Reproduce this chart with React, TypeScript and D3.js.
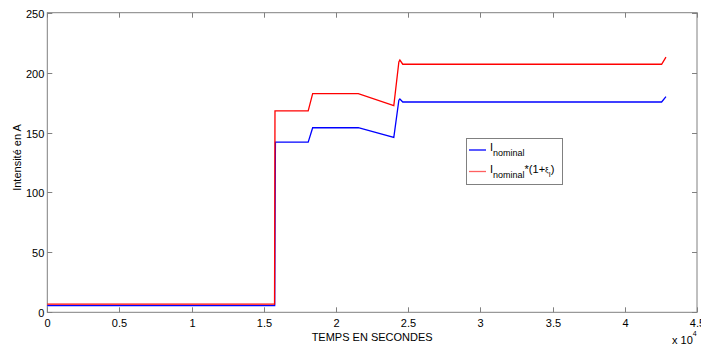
import { useEffect, useRef } from "react";
import * as d3 from "d3";

// time in seconds, current in A
const timeNominal = [0, 15750, 15800, 18070, 18380, 21540, 24000, 24350, 24420, 24620, 42550, 42850];
const iNominal = [5.5, 5.5, 142, 142, 154, 154, 146, 177, 178, 175.5, 175.5, 180];

const timeMargin = [0, 15740, 15770, 18070, 18380, 21540, 24000, 24350, 24420, 24620, 42550, 42850];
const iMargin = [6.8, 6.8, 168, 168, 182.5, 182.5, 172.5, 209, 210.5, 207, 207, 213];

const xTicks = [0, 0.5, 1, 1.5, 2, 2.5, 3, 3.5, 4, 4.5];
const yTicks = [0, 50, 100, 150, 200, 250];

export default function App() {
  const svgRef = useRef<SVGSVGElement>(null);

  useEffect(() => {
    const width = 701;
    const height = 347;
    const left = 47.3, right = 697, top = 12.7, bottom = 312.3;
    const font = "'Liberation Sans', Arial, Helvetica, sans-serif";
    const axisColor = "#808080";

    const svg = d3.select(svgRef.current);
    svg.selectAll("*").remove();
    svg.attr("width", width).attr("height", height);

    const x = d3.scaleLinear().domain([0, 45000]).range([left, right]);
    const y = d3.scaleLinear().domain([0, 250]).range([bottom, top]);

    // box
    svg.append("rect")
      .attr("x", left).attr("y", top)
      .attr("width", right - left).attr("height", bottom - top)
      .attr("fill", "white")
      .attr("stroke", axisColor)
      .attr("stroke-width", 1);

    // ticks (inward, both sides)
    xTicks.forEach(t => {
      const px = Math.round(x(t * 10000)) + 0.5;
      svg.append("line").attr("x1", px).attr("x2", px).attr("y1", bottom).attr("y2", bottom - 5)
        .attr("stroke", axisColor);
      svg.append("line").attr("x1", px).attr("x2", px).attr("y1", top).attr("y2", top + 5)
        .attr("stroke", axisColor);
      svg.append("text")
        .attr("x", px).attr("y", bottom + 15)
        .attr("text-anchor", "middle")
        .style("font-family", font).style("font-size", "11px")
        .text(String(t));
    });

    yTicks.forEach(t => {
      const py = Math.round(y(t)) + 0.5;
      svg.append("line").attr("x1", left).attr("x2", left + 5).attr("y1", py).attr("y2", py)
        .attr("stroke", axisColor);
      svg.append("line").attr("x1", right).attr("x2", right - 5).attr("y1", py).attr("y2", py)
        .attr("stroke", axisColor);
      svg.append("text")
        .attr("x", left - 3).attr("y", py + 4)
        .attr("text-anchor", "end")
        .style("font-family", font).style("font-size", "11px")
        .text(String(t));
    });

    const line = d3.line<[number, number]>()
      .x(d => x(d[0]))
      .y(d => y(d[1]));

    const series = [
      { t: timeNominal, v: iNominal, color: "#0000ff" },
      { t: timeMargin, v: iMargin, color: "#ff0000" },
    ];

    series.forEach(s => {
      const pts = s.t.map((t, i) => [t, s.v[i]] as [number, number]);
      svg.append("path")
        .attr("d", line(pts))
        .attr("fill", "none")
        .attr("stroke", s.color)
        .attr("stroke-width", 1.3);
    });

    // axis labels
    svg.append("text")
      .attr("transform", `translate(21,${(top + bottom) / 2 - 5}) rotate(-90)`)
      .attr("text-anchor", "middle")
      .style("font-family", font).style("font-size", "11px")
      .text("Intensité en A");

    svg.append("text")
      .attr("x", (left + right) / 2).attr("y", bottom + 29)
      .attr("text-anchor", "middle")
      .style("font-family", font).style("font-size", "11px")
      .text("TEMPS EN SECONDES");

    const exp = svg.append("text")
      .attr("x", 672).attr("y", bottom + 32)
      .style("font-family", font).style("font-size", "11px");
    exp.append("tspan").text("x 10");
    exp.append("tspan").attr("dy", -8).style("font-size", "7px").text("4");

    // legend
    const lg = svg.append("g");
    lg.append("rect")
      .attr("x", 466.5).attr("y", 138.5).attr("width", 96).attr("height", 46)
      .attr("fill", "white").attr("stroke", axisColor);

    const entries = [
      { color: "#0000ff", y: 150, extra: false },
      { color: "#ff6060", y: 171.5, extra: true },
    ];
    entries.forEach(e => {
      lg.append("line").attr("x1", 469).attr("x2", 486).attr("y1", e.y).attr("y2", e.y)
        .attr("stroke", e.color).attr("stroke-width", 1.3);
      const txt = lg.append("text")
        .attr("x", 490).attr("y", e.y + 1)
        .style("font-family", font).style("font-size", "11px");
      txt.append("tspan").text("I");
      txt.append("tspan").attr("dy", 5).style("font-size", "9px").text("nominal");
      if (e.extra) {
        txt.append("tspan").attr("dy", -5).style("font-size", "11px").text("*(1+");
        txt.append("tspan").style("font-size", "8px").attr("dy", -1).text("ξ");
        txt.append("tspan").style("font-size", "7px").attr("dy", 5).text("I");
        txt.append("tspan").style("font-size", "11px").attr("dy", -4).text(")");
      }
    });
  }, []);

  return (
    <svg ref={svgRef} style={{ position: "absolute", left: 0, top: 0, background: "white" }}></svg>
  );
}
